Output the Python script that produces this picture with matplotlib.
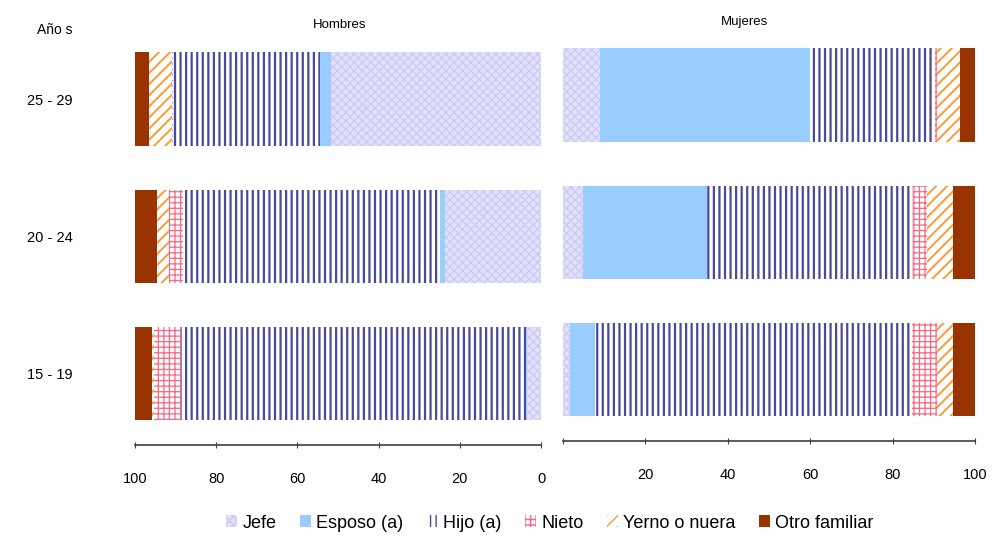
# Jefe / Esposo / Hijo ... por grupo de edad, hombres y mujeres
import matplotlib.pyplot as plt
import numpy as np

plt.rcParams['font.family'] = ['Liberation Sans', 'DejaVu Sans']

# categories (bottom to top)
grupos = ['15 - 19', '20 - 24', '25 - 29']

# Hombres (%)
jefe_h = [3.4, 23.6, 51.7]
esposo_h = [0.3, 1.2, 2.7]
hijo_h = [85.0, 63.5, 36.2]
nieto_h = [6.6, 3.4, 0.3]
yerno_h = [0.5, 2.9, 5.7]
otro_h = [4.2, 5.4, 3.4]

# Mujeres (%)
jefe_m = [1.7, 4.9, 9.0]
esposo_m = [6.1, 30.1, 51.0]
hijo_m = [76.9, 50.0, 30.3]
nieto_m = [6.1, 3.4, 0.5]
yerno_m = [3.9, 6.3, 5.6]
otro_m = [5.3, 5.3, 3.6]

nombres = ['Jefe', 'Esposo (a)', 'Hijo (a)', 'Nieto', 'Yerno o nuera', 'Otro familiar']
# (facecolor, hatch color, hatch, hatch linewidth)
estilos = [('#e2e1fa', '#cccaf2', 'xxxx', 1.0),
           ('#99ccff', '#99ccff', None, 1.0),
           ('white', '#4a4a9c', '|||', 1.6),
           ('white', '#ff6680', '+++', 0.9),
           ('white', '#ff9933', '///', 1.4),
           ('#993300', '#993300', None, 1.0)]

fig = plt.figure(figsize=(10.02, 5.37), dpi=100)
W, H = 1002, 537

def panel(x0, x1, top, bottom, series, ticks, invert):
    ax = fig.add_axes([x0 / W, (H - bottom) / H, (x1 - x0) / W, (bottom - top) / H])
    y = np.arange(len(grupos))
    left = np.zeros(len(grupos))
    bars = []
    for vals, (fc, hc, hatch, hlw) in zip(series, estilos):
        with plt.rc_context({'hatch.linewidth': hlw}):
            b = ax.barh(y, vals, left=left, height=0.68, color=fc, edgecolor=hc,
                        hatch=hatch, linewidth=0)
        bars.append(b)
        left += np.array(vals)
    if invert:
        ax.set_xlim(100, 0)
    else:
        ax.set_xlim(0, 100)
    ax.set_ylim(-0.52, 2.43)
    for s in ['top', 'left', 'right']:
        ax.spines[s].set_visible(False)
    ax.spines['bottom'].set_color('#404040')
    ax.spines['bottom'].set_linewidth(1.2)
    ax.set_xticks([0, 20, 40, 60, 80, 100])
    ax.set_xticklabels(ticks, fontsize=10.5)
    ax.tick_params(axis='x', direction='inout', length=5, color='#404040', pad=17)
    return ax, bars

axh, bars = panel(135, 541, 40, 445,
                  [jefe_h, esposo_h, hijo_h, nieto_h, yerno_h, otro_h],
                  ['0', '20', '40', '60', '80', '100'], True)
axm, _ = panel(563, 975, 36, 441,
               [jefe_m, esposo_m, hijo_m, nieto_m, yerno_m, otro_m],
               ['', '20', '40', '60', '80', '100'], False)

axh.set_yticks(np.arange(len(grupos)))
axh.set_yticklabels(grupos, fontsize=10.5)
axh.tick_params(axis='y', length=0, pad=45)
axm.set_yticks([])

fig.text(340 / W, 1 - 25 / H, 'Hombres', ha='center', va='center', fontsize=9.5)
fig.text(745 / W, 1 - 22 / H, 'Mujeres', ha='center', va='center', fontsize=9.5)
fig.text(55 / W, 1 - 30 / H, 'Año s', ha='center', va='center', fontsize=10)

fig.legend(bars, nombres, loc='center', bbox_to_anchor=(550 / W, 1 - 523 / H),
           ncol=6, frameon=False, fontsize=13, handlelength=0.6, handleheight=0.6,
           handletextpad=0.3, columnspacing=1.3)

fig.savefig('out.png', dpi=100)
